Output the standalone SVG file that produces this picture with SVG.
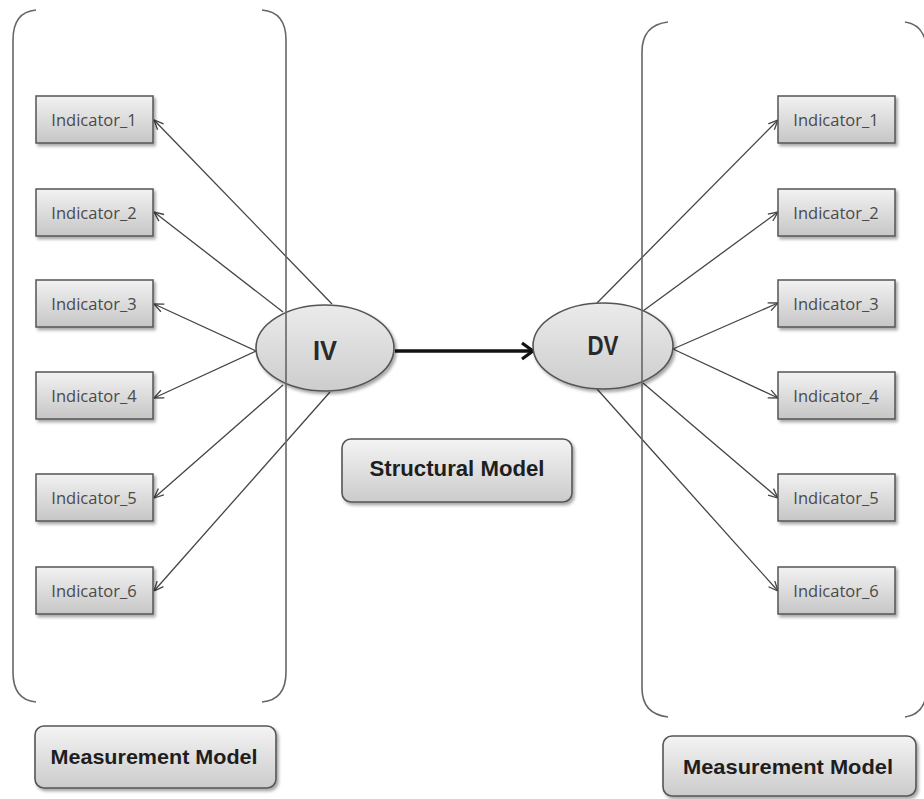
<svg xmlns="http://www.w3.org/2000/svg" width="924" height="799" viewBox="0 0 924 799">
<defs>
<linearGradient id="gBox" x1="0" y1="0" x2="0" y2="1">
<stop offset="0" stop-color="#f2f2f2"/>
<stop offset="1" stop-color="#c6c6c6"/>
</linearGradient>
<linearGradient id="gEll" x1="0" y1="0" x2="0" y2="1">
<stop offset="0" stop-color="#ebebeb"/>
<stop offset="1" stop-color="#cdcdcd"/>
</linearGradient>
<linearGradient id="gLbl" x1="0" y1="0" x2="0" y2="1">
<stop offset="0" stop-color="#f4f4f4"/>
<stop offset="1" stop-color="#cbcbcb"/>
</linearGradient>
<filter id="sh" x="-10%" y="-10%" width="125%" height="135%">
<feDropShadow dx="2" dy="2.5" stdDeviation="1.5" flood-color="#000" flood-opacity="0.35"/>
</filter>
<marker id="arr" viewBox="0 0 10 10" refX="10" refY="5" markerWidth="10" markerHeight="10" markerUnits="userSpaceOnUse" orient="auto">
<path d="M0.5,0.8 L10,5 L0.5,9.2" fill="none" stroke="#444" stroke-width="1.3"/>
</marker>
<marker id="arrBig" viewBox="0 0 14 20" refX="13" refY="10" markerWidth="14" markerHeight="20" markerUnits="userSpaceOnUse" orient="auto">
<path d="M2,2 L13,10 L2,18" fill="none" stroke="#111" stroke-width="3.2"/>
</marker>
<style>
.ind rect{fill:url(#gBox);stroke:#555;stroke-width:1.5;filter:url(#sh)}
.ind text{font-family:"Open Sans","Liberation Sans",sans-serif;font-size:16.5px;fill:#4a4a4a;text-anchor:middle;dominant-baseline:central}
.lv ellipse{fill:url(#gEll);stroke:#555;stroke-width:1.6;filter:url(#sh)}
.lv text{font-family:"Liberation Sans",Arial,sans-serif;font-weight:bold;font-size:27px;fill:#2a2a2a;text-anchor:middle;dominant-baseline:central}
.lbl rect{fill:url(#gLbl);stroke:#555;stroke-width:1.6;filter:url(#sh)}
.lbl text{font-family:"Liberation Sans",Arial,sans-serif;font-weight:bold;font-size:21px;fill:#1e1e1e;text-anchor:middle;dominant-baseline:central}
.br{fill:none;stroke:#666;stroke-width:1.6}
.con line{stroke:#444;stroke-width:1.3;marker-end:url(#arr)}
</style>
</defs>
<rect width="924" height="799" fill="#fff"/>

<g id="connectors" class="con">
<line x1="332" y1="304" x2="154" y2="120"/>
<line x1="283" y1="312" x2="154" y2="212"/>
<line x1="256" y1="351" x2="154" y2="304"/>
<line x1="256" y1="351" x2="154" y2="398"/>
<line x1="283" y1="385" x2="154" y2="498"/>
<line x1="330" y1="392" x2="154" y2="591"/>
<line x1="597" y1="303" x2="778" y2="120"/>
<line x1="643" y1="311" x2="778" y2="212"/>
<line x1="673" y1="349" x2="778" y2="303"/>
<line x1="673" y1="349" x2="778" y2="398"/>
<line x1="643" y1="383" x2="778" y2="498"/>
<line x1="597" y1="389" x2="778" y2="591"/>
<line x1="395" y1="351" x2="533" y2="351" style="stroke:#111;stroke-width:3.5;marker-end:url(#arrBig)"/>
</g>

<g id="iv" class="lv"><ellipse cx="325" cy="348" rx="69" ry="43"/><text x="325" y="351" textLength="24" lengthAdjust="spacingAndGlyphs">IV</text></g>
<g id="dv" class="lv"><ellipse cx="603" cy="346" rx="70" ry="43"/><text x="603" y="346" textLength="31" lengthAdjust="spacingAndGlyphs">DV</text></g>

<g id="brackets">
<path class="br" d="M36,10 Q13,12 13,40 V672 Q13,700 36,702"/>
<path class="br" d="M262,10 Q286,12 286,40 V672 Q286,700 262,702"/>
<path class="br" d="M668,22 Q642,25 642,52 V688 Q642,714 668,717"/>
<path class="br" d="M905,22 Q926,25 927,52 V688 Q926,714 905,717"/>
</g>

<g id="l1" class="ind"><rect x="36" y="96" width="117" height="47"/><text x="94" y="119">Indicator_1</text></g>
<g id="l2" class="ind"><rect x="36" y="189" width="117" height="47"/><text x="94" y="212">Indicator_2</text></g>
<g id="l3" class="ind"><rect x="36" y="280" width="117" height="47"/><text x="94" y="303">Indicator_3</text></g>
<g id="l4" class="ind"><rect x="36" y="372" width="117" height="47"/><text x="94" y="395">Indicator_4</text></g>
<g id="l5" class="ind"><rect x="36" y="474" width="117" height="47"/><text x="94" y="497">Indicator_5</text></g>
<g id="l6" class="ind"><rect x="36" y="567" width="117" height="47"/><text x="94" y="590">Indicator_6</text></g>

<g id="r1" class="ind"><rect x="778" y="96" width="117" height="47"/><text x="836" y="119">Indicator_1</text></g>
<g id="r2" class="ind"><rect x="778" y="189" width="117" height="47"/><text x="836" y="212">Indicator_2</text></g>
<g id="r3" class="ind"><rect x="778" y="280" width="117" height="47"/><text x="836" y="303">Indicator_3</text></g>
<g id="r4" class="ind"><rect x="778" y="372" width="117" height="47"/><text x="836" y="395">Indicator_4</text></g>
<g id="r5" class="ind"><rect x="778" y="474" width="117" height="47"/><text x="836" y="497">Indicator_5</text></g>
<g id="r6" class="ind"><rect x="778" y="567" width="117" height="47"/><text x="836" y="590">Indicator_6</text></g>

<g id="structural" class="lbl"><rect x="342" y="439" width="230" height="63" rx="9"/><text x="457" y="468" style="font-size:22px" textLength="175" lengthAdjust="spacingAndGlyphs">Structural Model</text></g>
<g id="mm-left" class="lbl"><rect x="35" y="726" width="241" height="62" rx="9"/><text x="154" y="756" textLength="207" lengthAdjust="spacingAndGlyphs">Measurement Model</text></g>
<g id="mm-right" class="lbl"><rect x="663" y="736" width="253" height="60" rx="9"/><text x="788" y="766" textLength="210" lengthAdjust="spacingAndGlyphs">Measurement Model</text></g>
</svg>
